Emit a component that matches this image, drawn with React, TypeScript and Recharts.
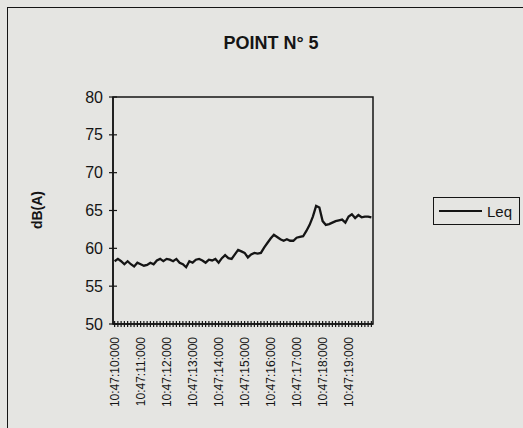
import React from 'react';
import { Legend, Line, LineChart, ReferenceArea, XAxis, YAxis } from 'recharts';

// 125 ms Leq samples, 10:47:10.000 -> 10:47:19.875
const START_SECOND = 10;
const SAMPLES_PER_SECOND = 8;

const leq = [
  58.3, 58.6, 58.3, 57.9, 58.3, 57.9, 57.6, 58.1, 57.9, 57.7,
  57.8, 58.1, 57.9, 58.4, 58.6, 58.3, 58.6, 58.5, 58.3, 58.6,
  58.1, 57.9, 57.5, 58.3, 58.1, 58.5, 58.6, 58.4, 58.1, 58.5,
  58.4, 58.6, 58.1, 58.7, 59.1, 58.7, 58.6, 59.2, 59.8, 59.6,
  59.4, 58.8, 59.2, 59.4, 59.3, 59.4, 60.1, 60.7, 61.3, 61.8,
  61.5, 61.2, 61.0, 61.2, 61.0, 61.0, 61.4, 61.5, 61.6, 62.3,
  63.1, 64.2, 65.6, 65.4, 63.6, 63.1, 63.2, 63.4, 63.6, 63.7,
  63.8, 63.4, 64.2, 64.5, 64.0, 64.4, 64.1, 64.2, 64.2, 64.1,
];

const yTicks = [50, 55, 60, 65, 70, 75, 80];

const data = leq.map((v, i) => ({ i, leq: v }));
const xTicks = data.map((d) => d.i);

const timeLabel = (i: number) => `10:47:${START_SECOND + i / SAMPLES_PER_SECOND}:000`;

const INK = '#151515';
const FONT = '"Liberation Sans", Arial, sans-serif';

const XTick = (props: any) => {
  const { x, y, payload } = props;
  const i = payload.value as number;
  const ty = y + 13;
  return (
    <g>
      <line x1={x} x2={x} y1={y - 3} y2={y + 3} stroke={INK} strokeWidth={1.2} />
      {i % SAMPLES_PER_SECOND === 0 && (
        <text
          x={x}
          y={ty}
          dy="0.35em"
          textAnchor="end"
          transform={`rotate(-90, ${x}, ${ty})`}
          fontSize={12}
          fontFamily={FONT}
          fill={INK}
        >
          {timeLabel(i)}
        </text>
      )}
    </g>
  );
};

const YTick = (props: any) => {
  const { x, y, payload } = props;
  return (
    <g>
      <line x1={x - 4} x2={x + 4} y1={y} y2={y} stroke={INK} strokeWidth={1.2} />
      <text x={x - 10} y={y} dy="0.35em" textAnchor="end" fontSize={16} fontFamily={FONT} fill={INK}>
        {payload.value}
      </text>
    </g>
  );
};

const LegendBox = () => (
  <div
    style={{
      width: 87,
      height: 28,
      boxSizing: 'border-box',
      border: `1.5px solid ${INK}`,
      display: 'flex',
      alignItems: 'center',
      fontFamily: FONT,
      fontSize: 15,
      color: INK,
    }}
  >
    <div style={{ width: 43, height: 2, background: INK, marginLeft: 5, marginRight: 5 }} />
    <span>Leq</span>
  </div>
);

export default function App() {
  return (
    <div
      style={{
        position: 'absolute',
        left: 0,
        top: 0,
        width: 523,
        height: 428,
        background: '#e5e5e2',
        overflow: 'hidden',
        fontFamily: FONT,
      }}
    >
      <div
        style={{
          position: 'absolute',
          left: 7,
          top: 7,
          width: 540,
          height: 450,
          border: `1.5px solid ${INK}`,
        }}
      />
      <div
        style={{
          position: 'absolute',
          left: 171,
          top: 33,
          width: 200,
          textAlign: 'center',
          fontSize: 18,
          fontWeight: 700,
          color: INK,
        }}
      >
        POINT N° 5
      </div>
      <div style={{ position: 'absolute', left: 0, top: 0 }}>
        <LineChart width={523} height={428} data={data} margin={{ top: 97, right: 150, bottom: 14, left: 33 }}>
          <XAxis
            dataKey="i"
            type="number"
            domain={[-0.5, leq.length - 0.5]}
            ticks={xTicks}
            interval={0}
            height={90}
            tickSize={0}
            tickMargin={0}
            tick={<XTick />}
            axisLine={{ stroke: INK, strokeWidth: 1.5 }}
            tickLine={false}
          />
          <YAxis
            type="number"
            domain={[50, 80]}
            ticks={yTicks}
            width={80}
            tickSize={0}
            tickMargin={0}
            tick={<YTick />}
            axisLine={{ stroke: INK, strokeWidth: 1.5 }}
            tickLine={false}
            label={{
              content: () => (
                <text
                  x={37}
                  y={210}
                  transform="rotate(-90, 37, 210)"
                  textAnchor="middle"
                  dy="0.35em"
                  fontSize={14}
                  fontWeight={700}
                  fontFamily={FONT}
                  fill={INK}
                >
                  dB(A)
                </text>
              ),
            }}
          />
          <ReferenceArea
            x1={-0.5}
            x2={leq.length - 0.5}
            y1={50}
            y2={80}
            fill="none"
            stroke={INK}
            strokeWidth={1.5}
            fillOpacity={0}
          />
          <Line
            type="linear"
            dataKey="leq"
            name="Leq"
            stroke={INK}
            strokeWidth={2.3}
            dot={false}
            isAnimationActive={false}
          />
          <Legend
            layout="vertical"
            align="center"
            verticalAlign="middle"
            wrapperStyle={{ left: 433, top: 197, width: 87, height: 28 }}
            content={() => <LegendBox />}
          />
        </LineChart>
      </div>
    </div>
  );
}
